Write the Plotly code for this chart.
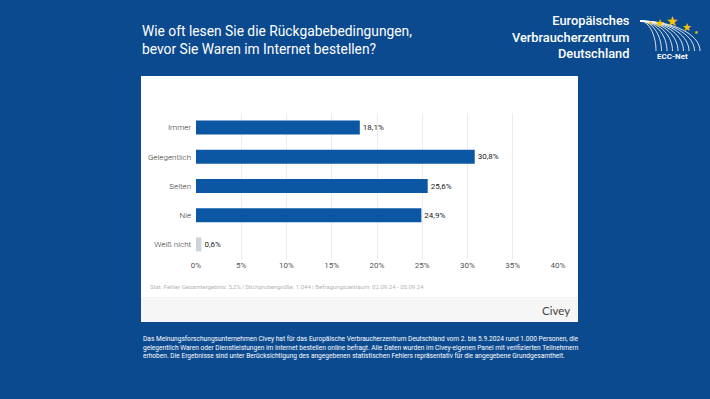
import plotly.graph_objects as go
import math

categories = ["Immer", "Gelegentlich", "Selten", "Nie", "Weiß nicht"]
values = [18.1, 30.8, 25.6, 24.9, 0.6]
value_labels = ["18,1%", "30,8%", "25,6%", "24,9%", "0,6%"]
bar_colors = ["#0b57a4", "#0b57a4", "#0b57a4", "#0b57a4", "#ccd4dc"]
tick_vals = [0, 5, 10, 15, 20, 25, 30, 35, 40]
tick_text = ["0%", "5%", "10%", "15%", "20%", "25%", "30%", "35%", "40%"]

W, H = 710, 399
BG = "#0b4a8e"

def px(x):
    return x / W

def py(y):
    return 1 - y / H

fig = go.Figure()
fig.add_trace(go.Bar(
    x=values, y=categories, orientation="h",
    marker=dict(color=bar_colors, line=dict(width=0)),
    width=0.48,
    text=value_labels, textposition="outside",
    textfont=dict(family="Roboto", size=8, color="#222222"),
    cliponaxis=False, hoverinfo="skip",
))

shapes = [
    dict(type="rect", xref="paper", yref="paper", x0=px(141), x1=px(578), y0=py(322), y1=py(76),
         fillcolor="white", line=dict(width=0), layer="below"),
    dict(type="rect", xref="paper", yref="paper", x0=px(141), x1=px(578), y0=py(322), y1=py(297),
         fillcolor="#f6f6f6", line=dict(width=0), layer="below"),
]

annotations = [
    dict(text="Wie oft lesen Sie die Rückgabebedingungen,<br>bevor Sie Waren im Internet bestellen?",
         x=px(140), y=py(40), xref="paper", yref="paper", xanchor="left", yanchor="middle",
         align="left", showarrow=False, font=dict(family="Roboto", size=13.8, color="white")),
    dict(text="Europäisches<br>Verbraucherzentrum<br>Deutschland",
         x=px(632), y=py(37), xref="paper", yref="paper", xanchor="right", yanchor="middle",
         align="right", showarrow=False,
         font=dict(family="Roboto", size=12.8, color="white", weight=500)),
    dict(text="<b>ECC-Net</b>", x=px(672), y=py(57), xref="paper", yref="paper",
         xanchor="center", yanchor="middle", showarrow=False,
         font=dict(family="Roboto", size=8, color="white")),
    dict(text="★", x=px(667), y=py(13), xref="paper", yref="paper", showarrow=False,
         font=dict(size=11, color="#f5c400")),
    dict(text="★", x=px(681), y=py(9), xref="paper", yref="paper", showarrow=False,
         font=dict(size=14, color="#f5c400")),
    dict(text="★", x=px(694), y=py(17), xref="paper", yref="paper", showarrow=False,
         font=dict(size=11, color="#f5c400")),
    dict(text="★", x=px(655), y=py(17), xref="paper", yref="paper", showarrow=False,
         font=dict(size=6, color="#f5c400")),
    dict(text="★", x=px(701), y=py(27), xref="paper", yref="paper", showarrow=False,
         font=dict(size=5, color="#f5c400")),
    dict(text="Stat. Fehler Gesamtergebnis: 5,2% | Stichprobengröße: 1.044 | Befragungszeitraum: 02.09.24 - 05.09.24",
         x=px(148), y=py(286), xref="paper", yref="paper", xanchor="left", yanchor="middle",
         showarrow=False, font=dict(family="Roboto", size=6, color="#b5b5b5")),
    dict(text="Civey", x=px(572), y=py(310), xref="paper", yref="paper", xanchor="right", yanchor="middle",
         showarrow=False, font=dict(family="Lato", size=11.5, color="#444444")),
    dict(text="Das Meinungsforschungsunternehmen Civey hat für das Europäische Verbraucherzentrum Deutschland vom 2. bis 5.9.2024 rund 1.000 Personen, die<br>"
              "gelegentlich Waren oder Dienstleistungen im Internet bestellen online befragt. Alle Daten wurden im Civey-eigenen Panel mit verifizierten Teilnehmern<br>"
              "erhoben. Die Ergebnisse sind unter Berücksichtigung des angegebenen statistischen Fehlers repräsentativ für die angegebene Grundgesamtheit.",
         x=px(141), y=py(347), xref="paper", yref="paper", xanchor="left", yanchor="middle",
         align="left", showarrow=False, font=dict(family="Roboto", size=6.6, color="white")),
]

# logo swoosh
sx, sy, ey = 640, 21, 51
for k in range(9):
    rx = 16 + k * 5.5
    pts = []
    for t in range(0, 91, 5):
        a = math.radians(t)
        x = sx + rx * math.sin(a)
        y = ey - (ey - sy) * math.cos(a)
        pts.append((px(x), py(y)))
    path = "M " + " L ".join(f"{x:.5f},{y:.5f}" for x, y in pts)
    shapes.append(dict(type="path", xref="paper", yref="paper", path=path,
                       line=dict(color="rgba(255,255,255,0.85)", width=1)))

fig.update_layout(
    width=W, height=H,
    margin=dict(l=0, r=0, t=0, b=0),
    paper_bgcolor=BG, plot_bgcolor="rgba(0,0,0,0)",
    showlegend=False,
    shapes=shapes,
    annotations=annotations,
    xaxis=dict(
        domain=[px(196), px(558)], range=[0, 40],
        tickvals=tick_vals, ticktext=tick_text,
        tickfont=dict(family="Roboto", size=8, color="#555555"),
        showgrid=True, gridcolor="#ebebeb", gridwidth=1,
        zeroline=False, showline=False, ticks="", ticklen=0,
        anchor="free", position=py(259), automargin=False,
    ),
    yaxis=dict(
        domain=[py(259), py(113)],
        categoryorder="array", categoryarray=categories,
        autorange=False, range=[4.5, -0.5],
        tickfont=dict(family="Roboto", size=8, color="#333333", weight=300),
        showgrid=False, zeroline=False, showline=False, ticks="", ticksuffix="  ", automargin=False,
    ),
)

post = (
    "var s=document.createElement('style');"
    "s.textContent='html,body{margin:0!important;padding:0!important;overflow:hidden!important;}"
    ".plotly-graph-div{position:fixed!important;left:0!important;top:0!important;}';"
    "document.head.appendChild(s);"
)

fig.write_html(
    "out.html",
    config={"displayModeBar": False, "staticPlot": True},
    post_script=post,
)
